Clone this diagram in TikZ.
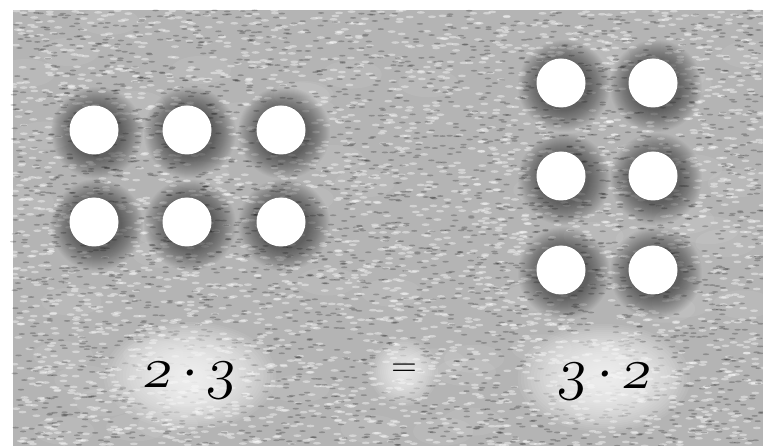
\documentclass[tikz,border=0pt]{standalone}
\usepackage{tikz}
\usetikzlibrary{positioning}
\definecolor{paper}{RGB}{180,180,180}
\definecolor{halo}{RGB}{30,30,30}
\newcommand{\osn}[1]{{\usefont{OML}{cmm}{m}{it}#1}}
\newcommand{\tms}{\,$\cdot$\,}

\begin{document}
\begin{tikzpicture}[x=1pt,y=-1pt,
    dot/.style={circle,fill=white,inner sep=0pt,minimum size=49pt},
    prod/.style={font=\huge,scale=2.8,anchor=base,inner sep=0pt,xslant=.12},
    eqsign/.style={font=\huge,scale=1.7,inner sep=0pt}]
  \useasboundingbox (0,0) rectangle (763,446);
  \fill[paper] (13,10) rectangle (763,446);
  % grain of the paper
  \pgfmathsetseed{42}
  \foreach \i in {1,...,60}{
    \fill[white,opacity=.08] ({13+750*rnd},{10+436*rnd}) ellipse (30 and 14);
  }
  \foreach \i in {1,...,3200}{
    \fill[white,opacity=.4] ({13+750*rnd},{10+436*rnd}) ellipse (4 and 1.3);
  }
  \foreach \i in {1,...,3000}{
    \fill[black,opacity=.22] ({13+750*rnd},{10+436*rnd}) ellipse (3.2 and .9);
  }
  % glow behind the labels
  \foreach \r in {8,10,...,54}{
    \fill[white,opacity=.07] (190,376) ellipse ({1.6*\r} and \r);
    \fill[white,opacity=.07] (604,378) ellipse ({1.6*\r} and \r);
  }
  \foreach \r in {4,6,...,34}
    \fill[white,opacity=.08] (404,372) circle (\r);
  % dots with their shadows
  \foreach \x/\y/\n in {94/130/a1, 187/130/a2, 281/130/a3, 94/222/a4, 187/222/a5, 281/222/a6,
                        561/83/b1, 653/83/b2, 561/176/b3, 653/176/b4, 561/270/b5, 653/270/b6}{
    \foreach \r in {25,26,...,46}
      \fill[halo,opacity=.033] (\x+3,\y+3) circle (\r);
    \node[dot] (\n) at (\x,\y) {};
  }
  \node[prod] (lhs) at (189,387) {\osn{2}\tms\osn{3}};
  \node[eqsign] (eq) at (404,370) {$=$};
  \node[prod] (rhs) at (604,388) {\osn{3}\tms\osn{2}};
\end{tikzpicture}
\end{document}
